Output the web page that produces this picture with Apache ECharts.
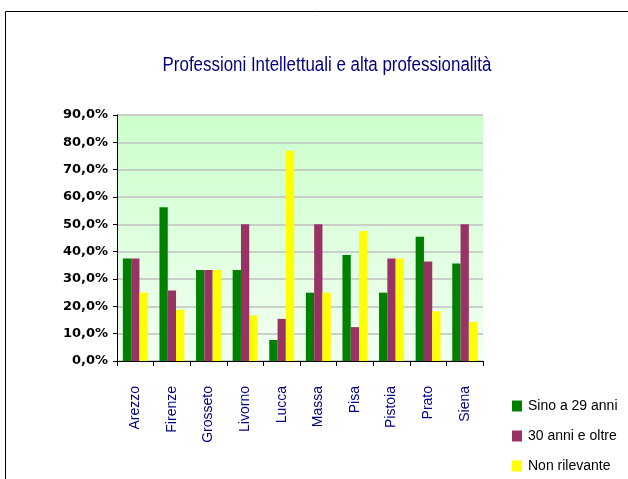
<!DOCTYPE html>
<html>
<head>
<meta charset="utf-8">
<script src="https://cdn.jsdelivr.net/npm/echarts@6/dist/echarts.min.js"></script>
<style>
  html, body { margin: 0; padding: 0; background: #fff; }
  #chart { width: 628px; height: 479px; }
</style>
</head>
<body>
<div id="chart"></div>
<script>
// Province names along the x axis
const categories = ['Arezzo', 'Firenze', 'Grosseto', 'Livorno', 'Lucca', 'Massa', 'Pisa', 'Pistoia', 'Prato', 'Siena'];

// Shares (%) per age group
const sino29 = [37.5, 56.25, 33.3, 33.3, 7.7, 25.0, 38.8, 25.0, 45.5, 35.7];
const oltre30 = [37.5, 25.8, 33.3, 50.0, 15.4, 50.0, 12.4, 37.5, 36.4, 50.0];
const nonRilevante = [25.0, 18.75, 33.3, 16.7, 76.9, 25.0, 47.6, 37.5, 18.2, 14.3];

const seriesNames = ['Sino a 29 anni', '30 anni e oltre', 'Non rilevante'];
const seriesColors = ['#008000', '#993366', '#ffff00'];

const sans = '"Liberation Sans", Arial, sans-serif';

const chart = echarts.init(document.getElementById('chart'), null, { renderer: 'canvas' });

const values = [sino29, oltre30, nonRilevante];

chart.setOption({
  animation: false,
  backgroundColor: '#ffffff',
  legend: {
    orient: 'vertical',
    left: 512,
    top: 398,
    padding: 0,
    itemWidth: 10,
    itemHeight: 11,
    itemGap: 14,
    icon: 'rect',
    data: seriesNames,
    textStyle: {
      fontFamily: sans,
      fontSize: 14,
      lineHeight: 16,
      color: '#000000',
      padding: [0, 0, 0, 1]
    }
  },
  grid: {
    left: 117,
    top: 115,
    width: 366,
    height: 246,
    show: true,
    borderWidth: 0,
    backgroundColor: new echarts.graphic.LinearGradient(0, 0, 0, 1, [
      { offset: 0, color: '#ccffcc' },
      { offset: 1, color: '#f2fff2' }
    ])
  },
  xAxis: {
    type: 'category',
    data: categories,
    axisLine: { show: true, lineStyle: { color: '#000000', width: 1 } },
    axisTick: { show: true, length: 5, lineStyle: { color: '#000000' } },
    axisLabel: {
      rotate: 90,
      margin: 25,
      fontFamily: sans,
      fontSize: 14,
      color: '#000080'
    }
  },
  yAxis: {
    type: 'value',
    min: 0,
    max: 90,
    interval: 10,
    axisLine: { show: true, lineStyle: { color: '#000000', width: 1 } },
    axisTick: { show: true, length: 4, lineStyle: { color: '#000000' } },
    splitLine: { show: true, lineStyle: { color: '#c0c0c0', width: 1.5 } },
    axisLabel: {
      margin: 9,
      fontFamily: '"DejaVu Sans", sans-serif',
      fontWeight: 'bold',
      fontSize: 13,
      color: '#000000',
      formatter: v => v.toFixed(1).replace('.', ',') + '%'
    }
  },
  series: seriesNames.map((name, i) => ({
    name: name,
    type: 'bar',
    data: values[i],
    barGap: '0%',
    barCategoryGap: '32%',
    itemStyle: { color: seriesColors[i] }
  })),
  graphic: [
    // Outer chart frame (left and top edges)
    {
      type: 'polyline',
      silent: true,
      shape: { points: [[5.5, 479], [5.5, 11.5], [628, 11.5]] },
      style: { stroke: '#000000', lineWidth: 1, fill: null }
    },
    // Condensed title
    {
      type: 'text',
      silent: true,
      x: 327,
      y: 55,
      scaleX: 0.845,
      style: {
        text: 'Professioni Intellettuali e alta professionalità',
        fontFamily: sans,
        fontSize: 20,
        fill: '#000080',
        textAlign: 'center',
        textVerticalAlign: 'top'
      }
    }
  ]
});
</script>
</body>
</html>
